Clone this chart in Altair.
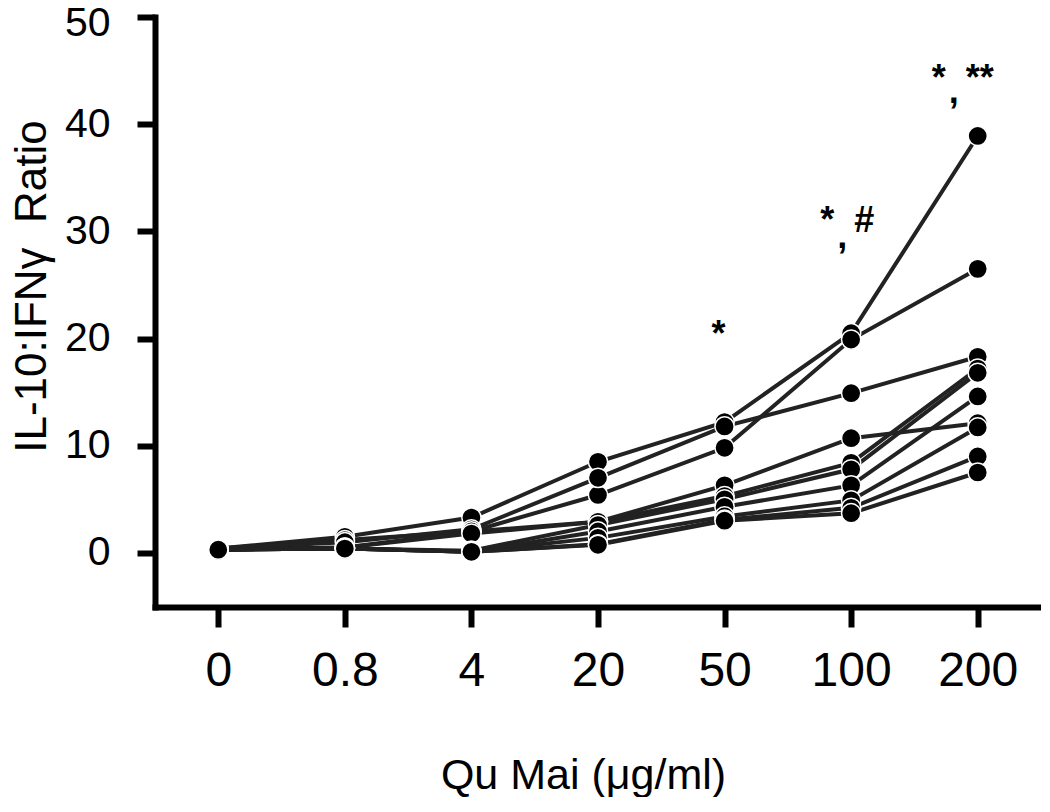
import altair as alt
import pandas as pd

doses = ["0", "0.8", "4", "20", "50", "100", "200"]

s1 = [0.4, 1.5, 3.3, 8.5, 12.2, 20.5, 38.9]
s2 = [0.4, 1.2, 2.0, 5.4, 9.8, 19.9, 26.5]
s3 = [0.4, 1.0, 2.2, 7.0, 11.8, 14.9, 18.3]
s4 = [0.3, 0.5, 2.0, 2.9, 6.3, 10.7, 12.1]
s5 = [0.3, 0.5, 1.8, 2.9, 5.3, 8.4, 17.2]
s6 = [0.3, 0.4, 0.2, 2.6, 5.0, 7.8, 16.8]
s7 = [0.3, 0.4, 0.1, 2.0, 4.3, 6.3, 14.6]
s8 = [0.3, 0.4, 0.1, 1.4, 3.4, 4.9, 11.7]
s9 = [0.3, 0.4, 0.1, 0.8, 3.1, 4.2, 9.0]
s10 = [0.3, 0.4, 0.1, 0.75, 3.0, 3.7, 7.5]
subjects = [s1, s2, s3, s4, s5, s6, s7, s8, s9, s10]

NB = "\u00a0"
# significance marks above the 50, 100 and 200 doses
ann_dose = ["50", "100", "200"]
ann_text = ["*", "*" + NB * 2 + "#", "*" + NB * 2 + "**"]
ann_y = [21.1, 31.7, 45.0]
comma_dose = ["100", "200"]
comma_y = [29.5, 43.0]

rows = []
for i, s in enumerate(subjects):
    for d, v in zip(doses, s):
        rows.append({"dose": d, "ratio": v, "subject": f"S{i+1}"})
df = pd.DataFrame(rows)

FONT = "Liberation Sans"
x_scale = alt.Scale(type="point", domain=doses, padding=0.5)
y_scale = alt.Scale(domain=[-5.05, 50], nice=False, zero=False)

x_enc = alt.X(
    "dose:O",
    sort=doses,
    scale=x_scale,
    axis=alt.Axis(
        title="Qu Mai (μg/ml)",
        labelAngle=0,
        labelFontSize=48,
        labelPadding=20,
        labelColor="black",
        labelFont=FONT,
        tickSize=20,
        tickWidth=6,
        tickColor="black",
        domainWidth=6,
        domainColor="black",
        domainCap="square",
        titleFontSize=43,
        titleFont=FONT,
        titleFontWeight="normal",
        titleColor="black",
        titleX=428,
        titleY=168,
        titleBaseline="middle",
        titleAnchor="start",
        titleAlign="center",
        grid=False,
    ),
)

y_enc = alt.Y(
    "ratio:Q",
    scale=y_scale,
    axis=alt.Axis(
        title="IL-10:IFNγ" + NB * 2 + "Ratio",
        values=[0, 10, 20, 30, 40, 50],
        labelFontSize=41,
        labelPadding=27,
        labelColor="black",
        labelFont=FONT,
        labelOffset={"condition": {"test": "datum.value == 50", "value": 6}, "value": 0},
        tickSize=18,
        tickWidth=6,
        tickColor="black",
        domainWidth=6,
        domainColor="black",
        domainCap="square",
        titleFontSize=44,
        titleFont=FONT,
        titleFontWeight="normal",
        titleColor="black",
        titleX=-123,
        titleY=269,
        titleAngle=270,
        titleAlign="center",
        titleBaseline="middle",
        titleAnchor="start",
        grid=False,
    ),
)

base = alt.Chart(df)
lines = base.mark_line(color="#222222", strokeWidth=4).encode(
    x=x_enc, y=y_enc, detail="subject:N"
)
points = base.mark_point(
    filled=True, shape="circle", size=370, color="black",
    stroke="white", strokeWidth=1.5, opacity=1
).encode(x=x_enc, y=y_enc)

# per-annotation horizontal nudges (style only)
ann_dx = [-6, -4, -15]
comma_dx = [-9, -24]

layers = [lines, points]
for d, t, yv, dx in zip(ann_dose, ann_text, ann_y, ann_dx):
    layers.append(
        alt.Chart(pd.DataFrame({"dose": [d], "text": [t], "y": [yv]}))
        .mark_text(font=FONT, fontSize=36, fontWeight="bold", color="black",
                   baseline="middle", align="center", dx=dx, dy=8)
        .encode(
            x=alt.X("dose:O", sort=doses, scale=x_scale),
            y=alt.Y("y:Q", scale=y_scale),
            text="text:N",
        )
    )
for d, yv, dx in zip(comma_dose, comma_y, comma_dx):
    layers.append(
        alt.Chart(pd.DataFrame({"dose": [d], "text": [","], "y": [yv]}))
        .mark_text(font=FONT, fontSize=36, fontWeight="bold", color="black",
                   baseline="middle", align="center", dx=dx)
        .encode(
            x=alt.X("dose:O", sort=doses, scale=x_scale),
            y=alt.Y("y:Q", scale=y_scale),
            text="text:N",
        )
    )

chart = (
    alt.layer(*layers)
    .properties(
        width=886,
        height=590,
        autosize=alt.AutoSizeParams(type="none"),
        padding={"left": 147, "top": 9, "right": 0, "bottom": 190},
        background="white",
    )
    .configure_view(stroke=None)
)

chart.save("out.html", embed_options={"renderer": "svg", "actions": False})
